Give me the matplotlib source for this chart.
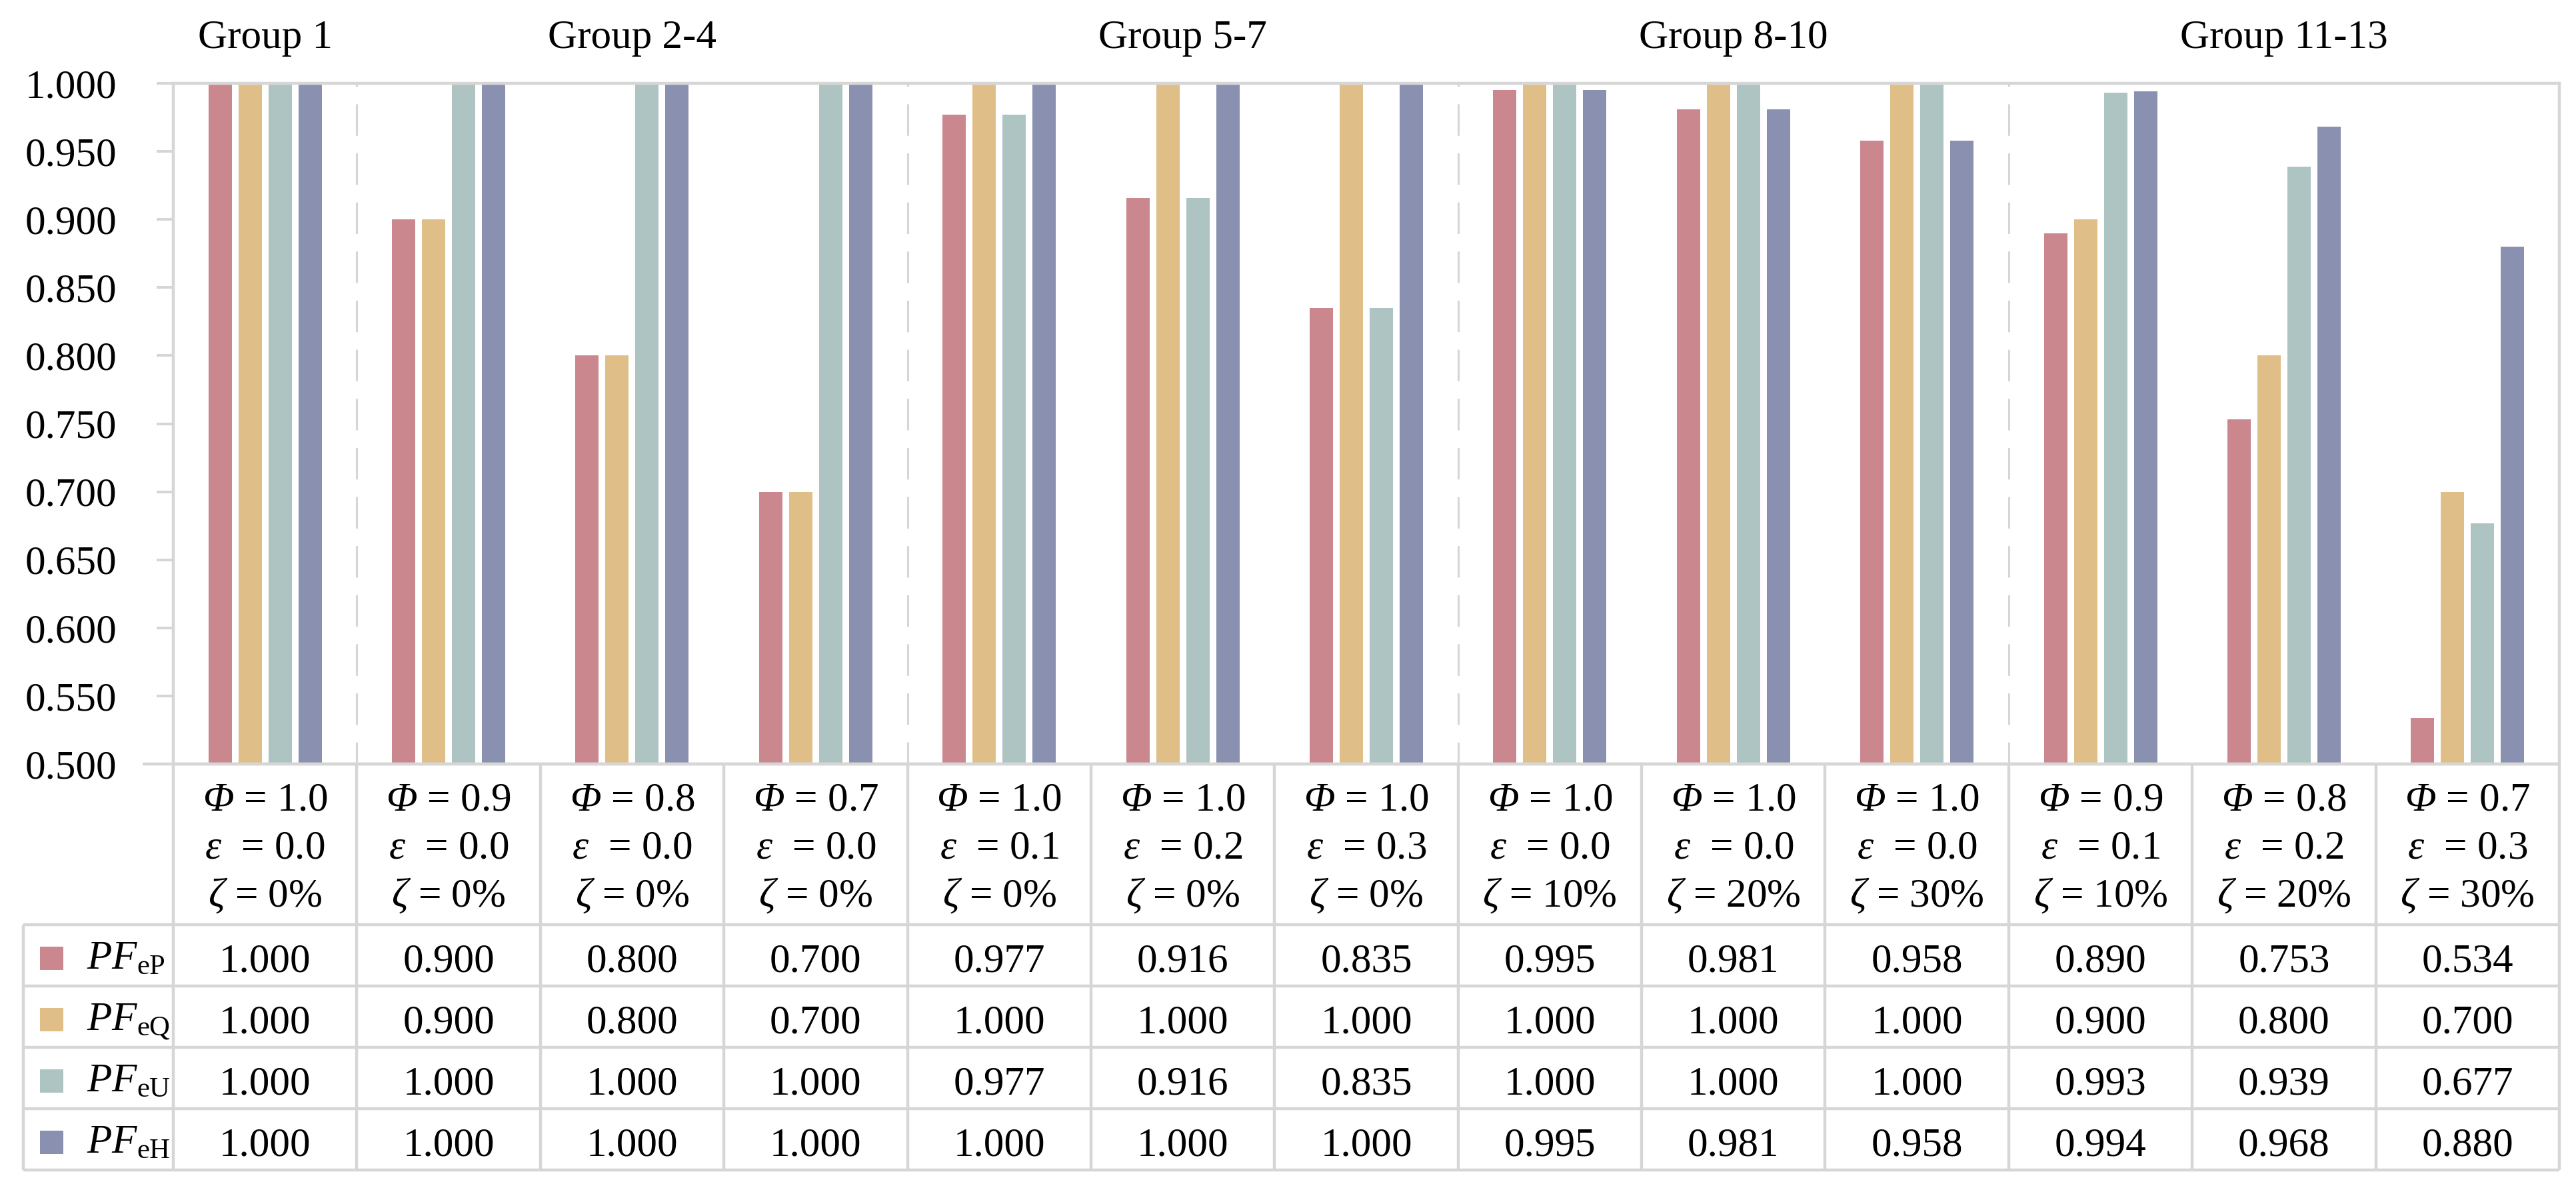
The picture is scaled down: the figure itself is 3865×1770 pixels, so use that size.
import matplotlib
matplotlib.use("Agg")
import matplotlib.pyplot as plt
import numpy as np
from matplotlib.patches import Rectangle

plt.rcParams['font.family'] = ['Liberation Serif', 'DejaVu Serif']
plt.rcParams['mathtext.fontset'] = 'custom'
plt.rcParams['mathtext.rm'] = 'Liberation Serif:italic'
plt.rcParams['mathtext.it'] = 'Liberation Serif:italic'
plt.rcParams['mathtext.sf'] = 'Liberation Serif'

# данные
groups = ["Group 1", "Group 2-4", "Group 5-7", "Group 8-10", "Group 11-13"]
group_spans = [(0, 1), (1, 4), (4, 7), (7, 10), (10, 13)]

phi = ["1.0", "0.9", "0.8", "0.7", "1.0", "1.0", "1.0",
       "1.0", "1.0", "1.0", "0.9", "0.8", "0.7"]
eps = ["0.0", "0.0", "0.0", "0.0", "0.1", "0.2", "0.3",
       "0.0", "0.0", "0.0", "0.1", "0.2", "0.3"]
zeta = ["0%", "0%", "0%", "0%", "0%", "0%", "0%",
        "10%", "20%", "30%", "10%", "20%", "30%"]

series_names = ["eP", "eQ", "eU", "eH"]
pf_ep = [1.000, 0.900, 0.800, 0.700, 0.977, 0.916, 0.835, 0.995, 0.981, 0.958, 0.890, 0.753, 0.534]
pf_eq = [1.000, 0.900, 0.800, 0.700, 1.000, 1.000, 1.000, 1.000, 1.000, 1.000, 0.900, 0.800, 0.700]
pf_eu = [1.000, 1.000, 1.000, 1.000, 0.977, 0.916, 0.835, 1.000, 1.000, 1.000, 0.993, 0.939, 0.677]
pf_eh = [1.000, 1.000, 1.000, 1.000, 1.000, 1.000, 1.000, 0.995, 0.981, 0.958, 0.994, 0.968, 0.880]
series = [pf_ep, pf_eq, pf_eu, pf_eh]

yticks = [0.500, 0.550, 0.600, 0.650, 0.700, 0.750, 0.800, 0.850, 0.900, 0.950, 1.000]

colors = ["#CB878E", "#E0BE87", "#ADC4C2", "#8A90AF"]
grid_gray = "#d6d6d6"
fs = 44

# раскладка в пикселях
W, H = 3865, 1770
x0, x1 = 260, 3840          # колонки данных
y_top, y_bot = 125, 1146    # область графика
tab_left, tab_bot = 35, 1755
head_h, row_h = 241, 92
ncol = len(pf_ep)
col_w = (x1 - x0) / ncol

fig = plt.figure(figsize=(W / 100, H / 100), dpi=100)
ax = fig.add_axes([x0 / W, 1 - y_bot / H, (x1 - x0) / W, (y_bot - y_top) / H])
tab = fig.add_axes([tab_left / W, 1 - tab_bot / H, (x1 - tab_left) / W, (tab_bot - y_bot) / H])

# столбики
xc = np.arange(ncol) + 0.5
step, bw = 0.1634, 0.127
for i, vals in enumerate(series):
    v = np.array(vals)
    ax.bar(xc + (i - 1.5) * step, v - 0.5, bottom=0.5, width=bw,
           color=colors[i], linewidth=0, zorder=2)

ax.set_xlim(0, ncol)
ax.set_ylim(0.5, 1.0)
ax.set_xticks([])
ax.set_yticks(yticks)
ax.set_yticklabels([f"{t:.3f}" for t in yticks])
ax.tick_params(axis='y', direction='out', length=18, width=2.9, color=grid_gray,
               pad=43, labelsize=fs)
for s in ax.spines.values():
    s.set_color(grid_gray)
    s.set_linewidth(3.2)
    s.set_zorder(3)

# пунктирные разделители групп
for a, b in group_spans[:-1]:
    ax.plot([b, b], [1.0, 0.5], color=grid_gray, lw=2.2,
            linestyle=(14, (15.5, 8.6)), zorder=1)

# подписи групп
y_grp = (y_bot - 72) / (y_bot - y_top)
for name, (a, b) in zip(groups, group_spans):
    ax.text((a + b) / 2, y_grp, name, transform=ax.get_xaxis_transform(),
            ha='center', va='baseline', fontsize=fs, clip_on=False)

# таблица
tab.set_xlim(-(x0 - tab_left) / col_w, ncol)
tab.set_ylim(head_h + 4 * row_h, 0)
tab.axis('off')
lkw = dict(color=grid_gray, lw=3.2, clip_on=False, solid_capstyle='butt')
xl = -(x0 - tab_left) / col_w
tab.plot([-(x0 - 214) / col_w, ncol], [0, 0], **lkw)
for k in range(5):
    yy = head_h + k * row_h
    tab.plot([xl, ncol], [yy, yy], **lkw)
for k in range(ncol + 1):
    tab.plot([k, k], [0, head_h + 4 * row_h], **lkw)
tab.plot([xl, xl], [head_h, head_h + 4 * row_h], **lkw)

for j in range(ncol):
    cx = j + 0.5
    tab.text(cx, 69, r"$\Phi$ = " + phi[j], ha='center', va='baseline', fontsize=fs)
    tab.text(cx, 141, r"$\varepsilon$  = " + eps[j], ha='center', va='baseline', fontsize=fs)
    tab.text(cx, 214, r"$\zeta$ = " + zeta[j], ha='center', va='baseline', fontsize=fs)

sq = 35
for i, (name, vals) in enumerate(zip(series_names, series)):
    top = head_h + i * row_h
    tab.add_patch(Rectangle(((60 - x0) / col_w, top + 33), sq / col_w, sq,
                            facecolor=colors[i], edgecolor='none', clip_on=False))
    tab.text((130 - x0) / col_w, top + 66, r"$PF_{\mathsf{" + name + "}}$",
             ha='left', va='baseline', fontsize=fs)
    for j, v in enumerate(vals):
        tab.text(j + 0.5, top + 70, f"{v:.3f}", ha='center', va='baseline', fontsize=fs)

fig.savefig("out.png", dpi=100)
plt.close(fig)
